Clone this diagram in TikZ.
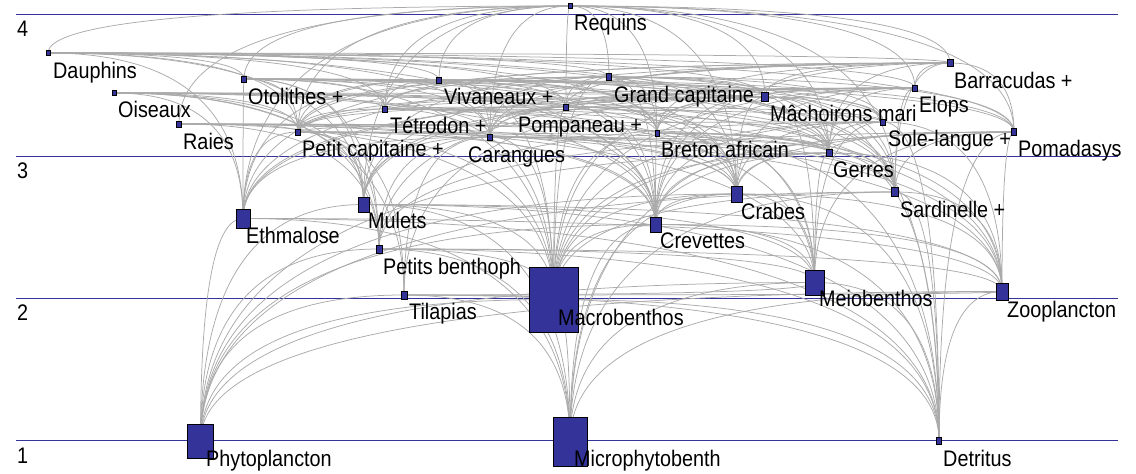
\documentclass[tikz,border=0pt]{standalone}
\usepackage{fontspec}
\setmainfont{Liberation Sans}[FakeStretch=0.88]
\usetikzlibrary{calc}
\definecolor{nodeblue}{RGB}{51,51,153}
\definecolor{edgegray}{RGB}{170,170,170}
\pgfdeclarelayer{levels}
\pgfdeclarelayer{links}
\pgfsetlayers{levels,links,main}
\tikzset{
  sp/.style={draw=black, fill=nodeblue, line width=0.5bp, inner sep=0pt, outer sep=0pt, rectangle},
  lab/.style={anchor=base west, inner sep=0pt, font=\fontsize{22.5bp}{26bp}\selectfont, text=black},
  fwline/.style={draw=edgegray, line width=0.75bp},
  lvl/.style={draw=nodeblue, line width=1bp},
}
\newcommand\fwedge[2]{\draw[fwline] (#1.center) .. controls ($(#1.center)!0.6667!(#1|-#2)$) and ($(#2.center)!0.6667!(#1|-#2)$) .. (#2.center);}
\newcommand\sq[5]{\node[sp, minimum width=#4bp, minimum height=#5bp] (#1) at (#2,#3) {};}
\begin{document}
\begin{tikzpicture}[x=1bp,y=-1bp]
\useasboundingbox (0,0) rectangle (1136,474);
% level lines
\coordinate (l4a) at (16,15);  \coordinate (l4b) at (1118,15);
\coordinate (l3a) at (16,157); \coordinate (l3b) at (1118,157);
\coordinate (l2a) at (16,299); \coordinate (l2b) at (1118,299);
\coordinate (l1a) at (16,441); \coordinate (l1b) at (1118,441);
\begin{pgfonlayer}{levels}
\draw[lvl] (l4a) -- (l4b);
\draw[lvl] (l3a) -- (l3b);
\draw[lvl] (l2a) -- (l2b);
\draw[lvl] (l1a) -- (l1b);
\end{pgfonlayer}
\node[lab] (n4) at (17,37) {4};
\node[lab] (n3) at (17,179) {3};
\node[lab] (n2) at (17,321) {2};
\node[lab] (n1) at (17,463) {1};
% boxes
\sq{req}{570}{6}{4}{5}
\sq{dau}{48}{53}{4}{5}
\sq{bar}{950}{63}{6}{7}
\sq{gca}{609}{77}{5}{7}
\sq{oto}{244}{79}{5}{6}
\sq{viv}{439}{80}{5}{6}
\sq{elo}{915}{88}{5}{6}
\sq{ois}{114}{93}{4}{5}
\sq{mac}{765}{97}{7}{9}
\sq{pom}{566}{107}{5}{6}
\sq{tet}{385}{109}{5}{6}
\sq{sol}{883}{122}{5}{6}
\sq{rai}{179}{124}{5}{6}
\sq{pmd}{1014}{132}{5}{7}
\sq{pca}{298}{132}{5}{6}
\sq{bre}{657}{133}{4}{6}
\sq{car}{490}{137}{5}{6}
\sq{ger}{829}{153}{6}{7}
\sq{sar}{895}{192}{7}{9}
\sq{cra}{736.5}{194}{11}{16}
\sq{mul}{363.5}{204.5}{11}{15}
\sq{eth}{243}{218.5}{14}{19}
\sq{cre}{655.5}{224.5}{11}{15}
\sq{pbe}{379}{249}{6}{8}
\sq{mei}{814.5}{282.5}{19}{25}
\sq{zoo}{1002}{291.5}{12}{17}
\sq{til}{404}{295}{6}{8}
\sq{mab}{553.5}{299.5}{49}{65}
\sq{phy}{200.5}{441}{26}{34}
\sq{mic}{570}{441.5}{34}{49}
\sq{det}{939}{441}{5}{7}
% links prey -> predator
\begin{pgfonlayer}{links}
\foreach \q in {dau,bar,gca,oto,viv,elo,mac,pom,tet,rai,pmd,pca,bre,car,ger,sar,mul,eth,cra} {\fwedge{\q}{req}}
\foreach \q in {bar,gca,oto,viv,elo,mac,pom,tet,pmd,pca,bre,car,ger,sar,eth,mul,cre} {\fwedge{\q}{dau}}
\foreach \q in {elo,mac,pom,tet,pmd,pca,bre,car,ger,sar,eth,mul,cre} {\fwedge{\q}{bar}}
\foreach \q in {mac,pom,tet,sol,pmd,pca,bre,car,ger,sar,eth,mul,cre,cra,mab} {\fwedge{\q}{gca}}
\foreach \q in {mac,pom,tet,sol,pmd,pca,bre,car,ger,sar,eth,mul,cre,cra,mab,pbe} {\fwedge{\q}{oto}}
\foreach \q in {tet,sol,pmd,pca,bre,car,ger,sar,eth,cre,cra,mab} {\fwedge{\q}{viv}}
\foreach \q in {mac,pom,pca,bre,car,ger,sar,eth,mul,cre,cra,mab} {\fwedge{\q}{elo}}
\foreach \q in {mac,pom,tet,pca,bre,car,ger,sar,eth,mul,cre,til,pbe} {\fwedge{\q}{ois}}
\foreach \q in {pom,tet,sol,pca,bre,car,ger,sar,eth,mul,cre,cra,mab,mei,pbe,til,det} {\fwedge{\q}{mac}}
\foreach \q in {tet,sol,pca,car,ger,cra,cre,mab,mei} {\fwedge{\q}{pom}}
\foreach \q in {sol,pca,ger,cra,cre,mab,mei,zoo} {\fwedge{\q}{tet}}
\foreach \q in {pca,bre,car,ger,cra,cre,mab,mei,pbe} {\fwedge{\q}{rai}}
\foreach \q in {pca,ger,cra,cre,mab,mei,pbe,zoo,det} {\fwedge{\q}{sol}}
\foreach \q in {ger,sar,cra,cre,mab,mei,zoo,pbe,det} {\fwedge{\q}{pmd}}
\foreach \q in {ger,sar,eth,mul,cra,cre,mab,pbe,til,zoo} {\fwedge{\q}{pca}}
\foreach \q in {ger,sar,cra,cre,mab,mei,zoo,det} {\fwedge{\q}{bre}}
\foreach \q in {ger,sar,eth,mul,cra,cre,mab,zoo,til,pbe} {\fwedge{\q}{car}}
\foreach \q in {cra,cre,mab,mei,zoo,det,mic,phy} {\fwedge{\q}{ger}}
\foreach \q in {zoo,phy,det,mab,mic} {\fwedge{\q}{sar}}
\foreach \q in {cre,mab,mei,det,mic,zoo,phy} {\fwedge{\q}{cra}}
\foreach \q in {mab,mei,det,mic,phy,zoo} {\fwedge{\q}{mul}}
\foreach \q in {zoo,phy,det,mic} {\fwedge{\q}{eth}}
\foreach \q in {mab,mei,zoo,det,mic,phy} {\fwedge{\q}{cre}}
\foreach \q in {mab,mei,zoo,det,mic,phy} {\fwedge{\q}{pbe}}
\foreach \q in {det,mic,phy} {\fwedge{\q}{mei}}
\foreach \q in {phy,det,mic} {\fwedge{\q}{zoo}}
\foreach \q in {mab,mei,zoo,det,mic,phy} {\fwedge{\q}{til}}
\foreach \q in {mic,phy,det} {\fwedge{\q}{mab}}
\end{pgfonlayer}
% labels
\node[lab] (t-req) at (574,31) {Requins};
\node[lab] (t-dau) at (53,79) {Dauphins};
\node[lab] (t-ois) at (118,118) {Oiseaux};
\node[lab] (t-rai) at (183,150) {Raies};
\node[lab] (t-oto) at (248,105) {Otolithes +};
\node[lab] (t-pca) at (302,157) {Petit capitaine +};
\node[lab] (t-viv) at (444,105) {Vivaneaux +};
\node[lab] (t-tet) at (390,134) {Tétrodon +};
\node[lab] (t-car) at (468,163) {Carangues};
\node[lab] (t-pom) at (518,133) {Pompaneau +};
\node[lab] (t-gca) at (614,103) {Grand capitaine};
\node[lab] (t-bre) at (661,158) {Breton africain};
\node[lab] (t-mac) at (770,122) {Mâchoirons mari};
\node[lab] (t-bar) at (954,89) {Barracudas +};
\node[lab] (t-elo) at (919,113) {Elops};
\node[lab] (t-sol) at (888,147) {Sole-langue +};
\node[lab] (t-pmd) at (1018,157) {Pomadasys};
\node[lab] (t-ger) at (833,178) {Gerres};
\node[lab] (t-sar) at (900,218) {Sardinelle +};
\node[lab] (t-cra) at (741,220) {Crabes};
\node[lab] (t-mul) at (368,229) {Mulets};
\node[lab] (t-eth) at (246,244) {Ethmalose};
\node[lab] (t-cre) at (660,249) {Crevettes};
\node[lab] (t-pbe) at (383,275) {Petits benthoph};
\node[lab] (t-til) at (409,320) {Tilapias};
\node[lab] (t-mab) at (558,326) {Macrobenthos};
\node[lab] (t-mei) at (819,307) {Meiobenthos};
\node[lab] (t-zoo) at (1007,318) {Zooplancton};
\node[lab] (t-phy) at (206,466) {Phytoplancton};
\node[lab] (t-mic) at (574,466) {Microphytobenth};
\node[lab] (t-det) at (943,466) {Detritus};
\end{tikzpicture}
\end{document}
